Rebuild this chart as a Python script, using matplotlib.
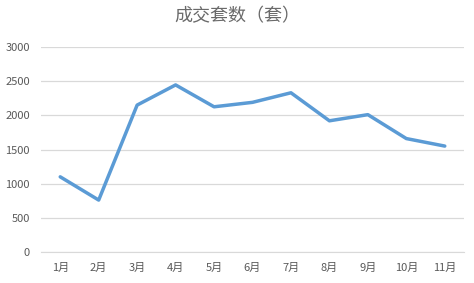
import numpy as np
from matplotlib import pyplot as plt

plt.rcParams['font.family'] = ['Noto Sans CJK SC', 'DejaVu Sans']

months = ['1月', '2月', '3月', '4月', '5月', '6月', '7月', '8月', '9月', '10月', '11月']
sales = [1100, 760, 2150, 2445, 2125, 2190, 2330, 1920, 2010, 1660, 1550]
y_ticks = [0, 500, 1000, 1500, 2000, 2500, 3000]


def main():
    fig = plt.figure(figsize=(4.74, 2.83), dpi=100)
    ax = fig.add_axes([41 / 474, 1 - 252 / 283, 423 / 474, 205 / 283])

    x = np.arange(len(months))
    ax.plot(x, sales, color='#5B9BD5', linewidth=2.5, solid_capstyle='round')

    ax.set_xlim(-0.5, len(months) - 0.5)
    ax.set_ylim(0, 3000)
    ax.set_yticks(y_ticks)
    ax.set_xticks(x)
    ax.set_xticklabels(months)
    ax.grid(axis='y', color='#D9D9D9', linewidth=0.9)
    ax.set_axisbelow(True)
    for s in ['top', 'right', 'left']:
        ax.spines[s].set_visible(False)
    ax.spines['bottom'].set_color('#D9D9D9')
    ax.tick_params(axis='both', length=0, labelsize=8, colors='#595959')
    ax.tick_params(axis='x', pad=8)
    ax.tick_params(axis='y', pad=8)

    fig.text(0.5, 1 - 16 / 283, '成交套数（套）', ha='center', va='center',
             fontsize=13, fontweight='light', color='#6a6a6a')

    fig.savefig('out.png', dpi=100)


if __name__ == "__main__":
    main()
